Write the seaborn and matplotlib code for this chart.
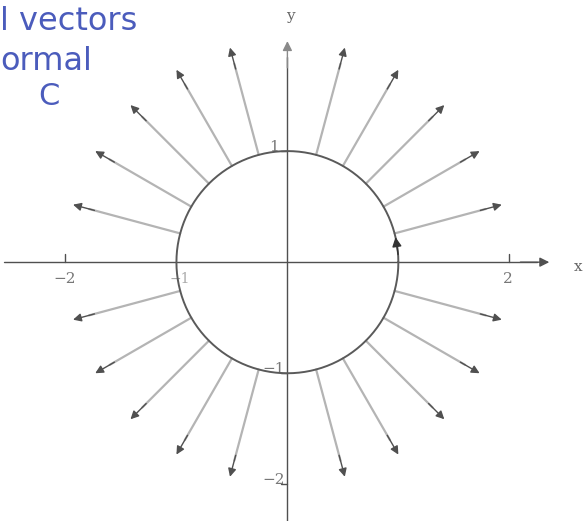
"""Normal vectors on the unit circle C (scanned textbook figure)."""

import numpy as np
import matplotlib
matplotlib.use("Agg")
import matplotlib.pyplot as plt
import seaborn as sns

# Data
normal_angles_deg = [15, 30, 45, 60, 75, 105, 120, 135, 150, 165,
                     195, 210, 225, 240, 255, 285, 300, 315, 330, 345]
circle_radius = 1.0
arrow_tip_radius = 2.0
x_tick_values = [-2, 2]
x_tick_labels = ["\u22122", "2"]
y_tick_values = [1, -1, -2]
y_tick_labels = ["1", "\u22121", "\u22122"]
note_lines = ["l vectors", "ormal", "C"]

sns.set_style("white")

fig = plt.figure(figsize=(5.87, 5.21), dpi=100)
ax = fig.add_axes([0, 0, 1, 1])
ax.set_xlim(-2.59, 2.70)
ax.set_ylim(-2.33, 2.36)
ax.axis("off")

shaft_color = "#b4b4b4"
head_color = "#505050"
axis_color = "#505050"


def arrow_head(tip, tail, color, scale=12):
    ax.annotate("", xy=tip, xytext=tail,
                arrowprops=dict(arrowstyle="-|>", color=color, lw=1.0,
                                mutation_scale=scale, shrinkA=0, shrinkB=0))


# axes
ax.plot([-2.55, 2.25], [0, 0], color=axis_color, lw=1.0, zorder=1)
arrow_head((2.36, 0), (2.1, 0), axis_color, 14)
ax.plot([0, 0], [-2.35, 1.85], color=axis_color, lw=1.0, zorder=1)
arrow_head((0, 1.99), (0, 1.75), "#8a8a8a", 14)
ax.text(2.62, -0.04, "x", fontsize=11, family="serif", color="#666",
        ha="center", va="center")
ax.text(0.03, 2.22, "y", fontsize=11, family="serif", color="#666",
        ha="center", va="center")

# ticks and labels
for v, lab in zip(x_tick_values, x_tick_labels):
    ax.plot([v, v], [0, 0.07], color=axis_color, lw=1.0)
    ax.text(v - 0.01, -0.15, lab, fontsize=11, family="serif", color="#777",
            ha="center", va="center")
ax.text(-0.97, -0.15, "\u22121", fontsize=10, family="serif", color="#aaa",
        ha="center", va="center")
for v, lab in zip(y_tick_values, y_tick_labels):
    ax.plot([-0.06, 0], [v, v], color=axis_color, lw=1.0)
    ax.text(-0.12, v + 0.04, lab, fontsize=11, family="serif", color="#777",
            ha="center", va="center")

# circle C
theta = np.linspace(0, 2 * np.pi, 361)
sns.lineplot(x=circle_radius * np.cos(theta), y=circle_radius * np.sin(theta),
             sort=False, estimator=None, errorbar=None, color="#5a5a5a",
             lw=1.4, ax=ax, zorder=3)

# orientation arrow on C
a0, a1 = np.radians(4), np.radians(13)
arrow_head((np.cos(a1), np.sin(a1)), (np.cos(a0), np.sin(a0)), "#333", 14)

# normal vectors
for deg in normal_angles_deg:
    t = np.radians(deg)
    ux, uy = np.cos(t), np.sin(t)
    ax.plot([circle_radius * ux, 1.85 * ux], [circle_radius * uy, 1.85 * uy],
            color=shaft_color, lw=1.6, zorder=2)
    arrow_head((arrow_tip_radius * ux, arrow_tip_radius * uy),
               (1.8 * ux, 1.8 * uy), head_color, 12)

# handwritten note
note_color = "#4b5cbc"
fig.text(0.0, 0.958, note_lines[0], fontsize=23, color=note_color,
         ha="left", va="center")
fig.text(0.0, 0.882, note_lines[1], fontsize=23, color=note_color,
         ha="left", va="center")
fig.text(0.065, 0.815, note_lines[2], fontsize=22, color=note_color,
         ha="left", va="center")

fig.savefig("out.png", dpi=100)
